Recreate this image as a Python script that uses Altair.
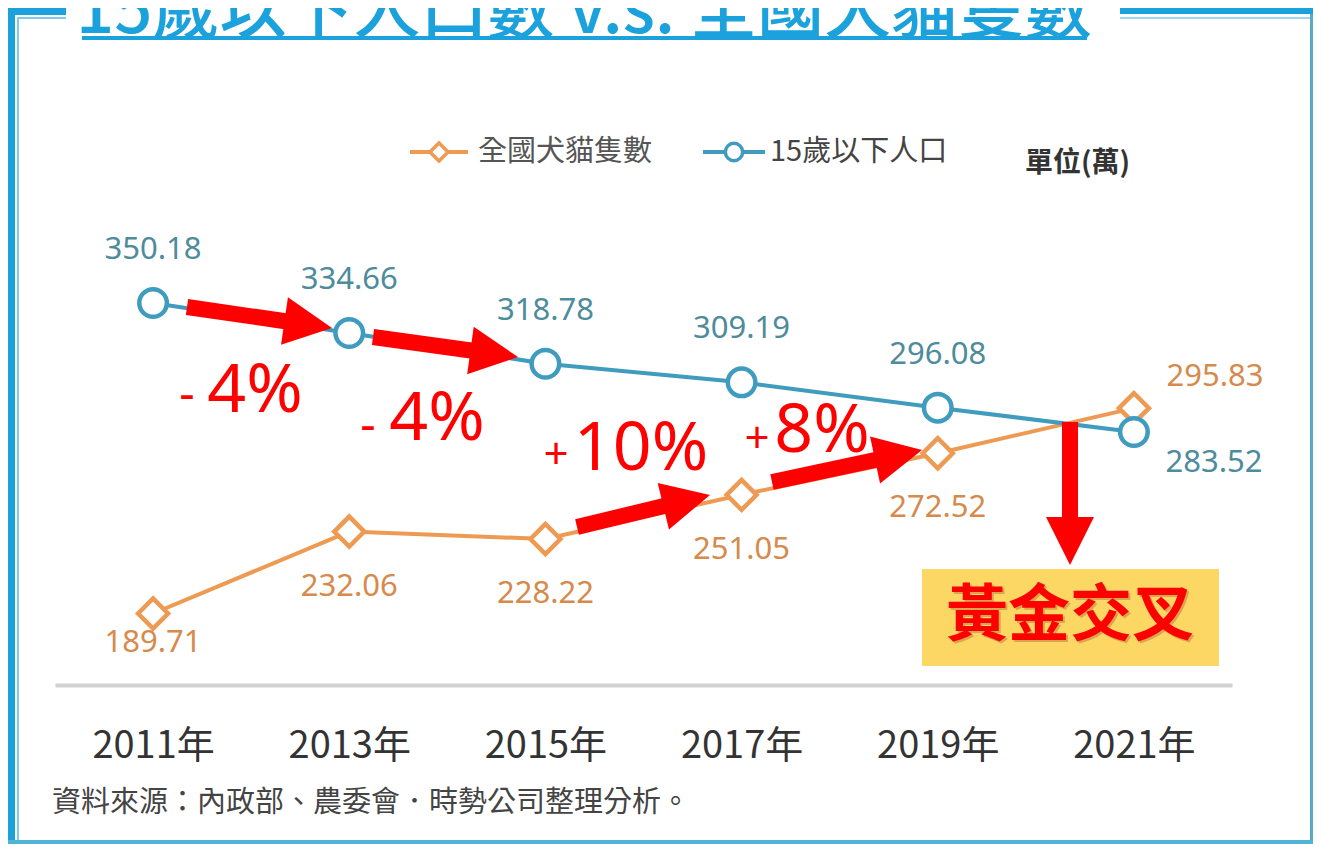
import math
import altair as alt
import pandas as pd

# ---------------- data ----------------
years = [2011, 2013, 2015, 2017, 2019, 2021]
pets = [189.71, 232.06, 228.22, 251.05, 272.52, 295.83]     # 全國犬貓隻數 (萬)
kids = [350.18, 334.66, 318.78, 309.19, 296.08, 283.52]     # 15歲以下人口 (萬)
series_names = ["全國犬貓隻數", "15歲以下人口"]
year_suffix = "年"
change_signs = ["-", "-", "+", "+"]
change_nums = ["4%", "4%", "10%", "8%"]
title_text = "15歲以下人口數 v.s. 全國犬貓隻數"
unit_text = "單位(萬)"
source_text = "資料來源：內政部、農委會．時勢公司整理分析。"
callout_text = "黃金交叉"

# ---------------- style ----------------
ORANGE = "#ee9a52"
ORANGE_TXT = "#d68a4c"
BLUE = "#3f9cbf"
BLUE_TXT = "#4e8b9b"
FRAME = "#1ba1dc"
RED = "#ff0000"
CJK = "Noto Sans CJK TC"
LAT = "Noto Sans"

# plot area placement (screen px) -> plot coords
OX, OY = 55, 100
W, H = 1177, 585

df = pd.DataFrame({
    "year": years * 2,
    "value": pets + kids,
    "series": [series_names[0]] * len(years) + [series_names[1]] * len(years),
})
df["label"] = df["value"].map(lambda v: f"{v:.2f}")

x_enc = alt.X("year:Q",
              scale=alt.Scale(domain=[2010, 2022], nice=False, zero=False),
              axis=alt.Axis(values=years, labelExpr=f"datum.value + '{year_suffix}'",
                            title=None, grid=False, ticks=False,
                            domainColor="#d2d2d2", domainWidth=4,
                            labelFont=CJK, labelFontSize=38, labelColor="#333333",
                            labelPadding=42, labelAngle=0, labelFlush=False))
y_enc = alt.Y("value:Q",
              scale=alt.Scale(domain=[152.76, 455.09], nice=False, zero=False),
              axis=None)
color_enc = alt.Color("series:N",
                      scale=alt.Scale(domain=series_names, range=[ORANGE, BLUE]),
                      legend=None)

base = alt.Chart(df).encode(x=x_enc, y=y_enc)

lines = base.mark_line(strokeWidth=4).encode(color=color_enc, detail="series:N")
pets_pts = base.transform_filter(alt.datum.series == series_names[0]).mark_point(
    shape="diamond", size=900, filled=True, fill="white", stroke=ORANGE,
    strokeWidth=4.5, opacity=1)
kids_pts = base.transform_filter(alt.datum.series == series_names[1]).mark_point(
    shape="circle", size=760, filled=True, fill="white", stroke=BLUE,
    strokeWidth=4.5, opacity=1)


def vlabel(flt, dx, dy, color):
    return base.transform_filter(flt).mark_text(
        font=LAT, fontSize=31, color=color, dx=dx, dy=dy, baseline="middle"
    ).encode(text="label:N")


is_pet = alt.datum.series == series_names[0]
is_kid = alt.datum.series == series_names[1]
last = years[-1]
first = years[0]
labels = [
    vlabel(is_kid & (alt.datum.year < last), 0, -53, BLUE_TXT),
    vlabel(is_kid & (alt.datum.year == last), 80, 31, BLUE_TXT),
    vlabel(is_pet & (alt.datum.year > first) & (alt.datum.year < last), 0, 55, ORANGE_TXT),
    vlabel(is_pet & (alt.datum.year == first), 0, 29, ORANGE_TXT),
    vlabel(is_pet & (alt.datum.year == last), 81, -31, ORANGE_TXT),
]


# ---------------- annotation helpers (pixel positions) ----------------
def one(**kw):
    return pd.DataFrame({k: [v] for k, v in kw.items()})


def txt(text, x, y, size, color, font=CJK, weight="normal", align="center",
        baseline="middle", opacity=1.0):
    return alt.Chart(one(t=text)).mark_text(
        font=font, fontSize=size, color=color, fontWeight=weight,
        align=align, baseline=baseline, opacity=opacity
    ).encode(x=alt.value(x - OX), y=alt.value(y - OY), text="t:N")


def rect(x1, y1, x2, y2, color, corner=0):
    return alt.Chart(one(a=0)).mark_rect(color=color, cornerRadius=corner).encode(
        x=alt.value(x1 - OX), x2=alt.value(x2 - OX),
        y=alt.value(y1 - OY), y2=alt.value(y2 - OY))


def rule(x1, y1, x2, y2, color, width):
    return alt.Chart(one(a=0)).mark_rule(color=color, strokeWidth=width).encode(
        x=alt.value(x1 - OX), x2=alt.value(x2 - OX),
        y=alt.value(y1 - OY), y2=alt.value(y2 - OY))


def sym(x, y, shape, size, stroke, sw):
    return alt.Chart(one(a=0)).mark_point(
        shape=shape, size=size, filled=True, fill="white", stroke=stroke,
        strokeWidth=sw, opacity=1
    ).encode(x=alt.value(x - OX), y=alt.value(y - OY))


# arrows: (start screen xy, tip screen xy)
arrow_defs = [((187, 307), (332, 328)), ((373, 337), (518, 357)),
              ((577, 527), (710, 495)), ((772, 482), (922, 450)),
              ((1070, 422), (1070, 565))]
HEAD = 48
shaft_rows, head_rows = [], []
for (sx, sy), (tx, ty) in arrow_defs:
    dx, dy = tx - sx, ty - sy
    L = math.hypot(dx, dy)
    ux, uy = dx / L, dy / L
    shaft_rows.append({"x": sx - OX, "y": sy - OY,
                       "x2": tx - ux * (HEAD - 6) - OX, "y2": ty - uy * (HEAD - 6) - OY})
    head_rows.append({"x": tx - ux * HEAD / 2 - OX, "y": ty - uy * HEAD / 2 - OY,
                      "ang": math.degrees(math.atan2(dy, dx)) % 360})
shafts = alt.Chart(pd.DataFrame(shaft_rows)).mark_rule(
    color=RED, strokeWidth=16, strokeCap="butt").encode(
    x=alt.X("x:Q", scale=None, axis=None), y=alt.Y("y:Q", scale=None, axis=None),
    x2="x2:Q", y2="y2:Q")
heads = alt.Chart(pd.DataFrame(head_rows)).mark_point(
    shape="M-1,-1L1,0L-1,1Z", size=HEAD * HEAD, filled=True, color=RED, opacity=1
).encode(x=alt.X("x:Q", scale=None, axis=None), y=alt.Y("y:Q", scale=None, axis=None),
         angle=alt.Angle("ang:Q", scale=None))

# change labels
sign_pos = [(187, 410, 48), (368, 441, 48), (556, 469, 44), (757, 453, 44)]
num_pos = [(255, 412), (437, 440), (641, 470), (822, 452)]
change_layers = []
for s, n, (sx_, sy_, ss), (nx, ny) in zip(change_signs, change_nums, sign_pos, num_pos):
    change_layers.append(txt(s, sx_, sy_, ss, RED, font=LAT, baseline="alphabetic"))
    change_layers.append(txt(n, nx, ny, 68, RED, font=LAT, baseline="alphabetic"))

# frame
frame = [
    rect(8, 8, 15, 844, FRAME),
    rect(8, 8, 66, 15, FRAME),
    rect(17, 17, 19, 844, "#7fcbe9"),
    rect(17, 17, 66, 19, "#7fcbe9"),
    rect(1120, 8, 1313, 14, FRAME),
    rect(1120, 17, 1313, 19, "#9fd8ee"),
    rect(1310, 14, 1313, 844, "#5aaac4"),
    rect(8, 840, 1313, 844, "#4fb3d6"),
]

title = [
    txt(title_text, 584, 33, 67, FRAME, weight=500, baseline="alphabetic"),
    rule(82, 38, 1087, 38, FRAME, 4),
]

legend = [
    rule(410, 152, 468, 152, ORANGE, 4),
    sym(439, 152, "diamond", 330, ORANGE, 3.5),
    txt(series_names[0], 478, 152, 29, "#555555", align="left"),
    rule(703, 152, 765, 152, BLUE, 4),
    sym(734, 152, "circle", 300, BLUE, 3.5),
    txt(series_names[1], 770, 152, 29, "#444444", align="left"),
    txt(unit_text, 1025, 164, 28, "#333333", weight="bold", align="left"),
]

callout = [
    rect(922, 569, 1219, 666, "#fdd764"),
    txt(callout_text, 1072, 619, 62, "#7a1010", weight="bold", opacity=0.25),
    txt(callout_text, 1070, 617, 62, RED, weight="bold"),
]

source = [txt(source_text, 52, 803, 29, "#444444", align="left")]

layers = (frame + title + legend + [lines, pets_pts, kids_pts] + labels
          + [shafts, heads] + change_layers + callout + source)

chart = alt.layer(*layers).properties(
    width=W, height=H,
    padding={"left": 47, "top": 92, "right": 81, "bottom": 159},
    autosize=alt.AutoSizeParams(type="none"),
    background="white",
).configure_view(stroke=None)

chart.save("out.html", embed_options={"renderer": "svg", "actions": False})
